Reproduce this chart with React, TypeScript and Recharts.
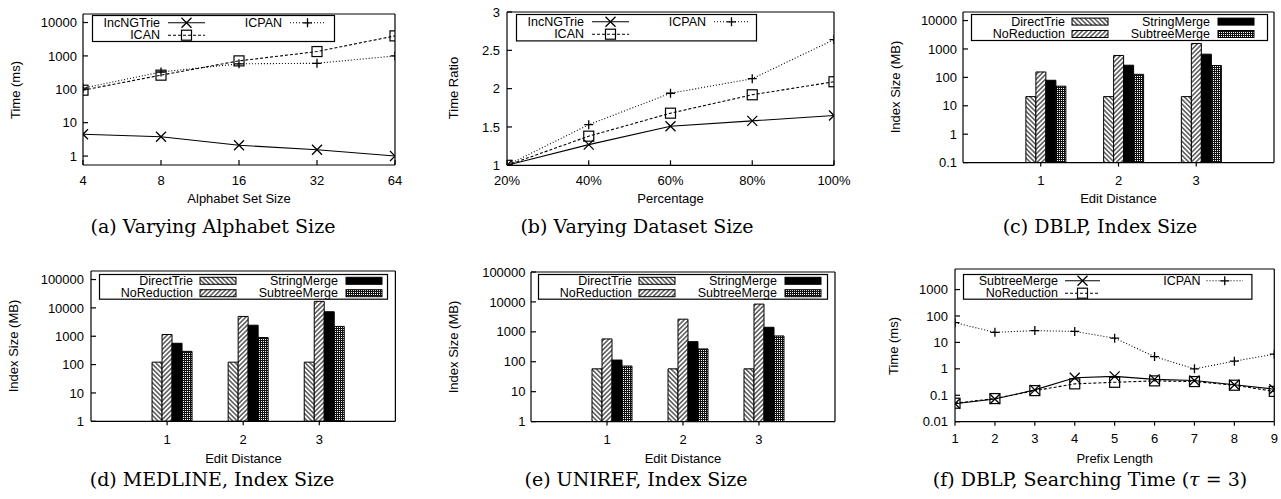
import React from 'react';
import { LineChart, Line, BarChart, Bar, XAxis, YAxis } from 'recharts';

// (a) varying alphabet size
const alphabetSizes = [4, 8, 16, 32, 64];
const alphabetIncNGTrie = [4.5, 3.8, 2.1, 1.55, 1.0];
const alphabetICAN = [94, 265, 710, 1350, 3980];
const alphabetICPAN = [108, 330, 580, 600, 1000];

// (b) varying dataset size
const datasetPercents = [20, 40, 60, 80, 100];
const datasetIncNGTrie = [1, 1.27, 1.51, 1.58, 1.65];
const datasetICAN = [1, 1.38, 1.68, 1.92, 2.09];
const datasetICPAN = [1, 1.53, 1.94, 2.13, 2.64];

// (c)-(e) index sizes per edit distance
const editDistances = [1, 2, 3];
const dblpDirectTrie = [21, 21, 21];
const dblpNoReduction = [155, 590, 1560];
const dblpStringMerge = [79, 268, 655];
const dblpSubtreeMerge = [49, 128, 262];

const medlineDirectTrie = [122, 122, 122];
const medlineNoReduction = [1150, 5000, 17000];
const medlineStringMerge = [565, 2450, 7300];
const medlineSubtreeMerge = [293, 900, 2220];

const unirefDirectTrie = [58, 58, 58];
const unirefNoReduction = [580, 2650, 8450];
const unirefStringMerge = [114, 470, 1420];
const unirefSubtreeMerge = [72, 268, 730];

// (f) searching time per prefix length
const prefixLengths = [1, 2, 3, 4, 5, 6, 7, 8, 9];
const prefixSubtreeMerge = [0.048, 0.072, 0.16, 0.46, 0.52, 0.4, 0.36, 0.25, 0.17];
const prefixNoReduction = [0.05, 0.075, 0.15, 0.27, 0.31, 0.35, 0.33, 0.24, 0.14];
const prefixICPAN = [56, 24, 28, 26, 14.5, 2.9, 1.0, 1.95, 3.6];

// tick labels
const ratioTicks = [1, 1.5, 2, 2.5, 3];
const timeTicksA = [1, 10, 100, 1000, 10000];
const sizeTicksC = [0.1, 1, 10, 100, 1000, 10000];
const sizeTicksDE = [1, 10, 100, 1000, 10000, 100000];
const timeTicksF = [0.01, 0.1, 1, 10, 100, 1000];

const SANS = '"Liberation Sans", Arial, sans-serif';
const SERIF = '"DejaVu Serif", serif';
const TICK = { fill: '#000', fontSize: 13, fontFamily: SANS };
const FRAME = { stroke: '#000', strokeWidth: 1.2 };

const YW = 60;
const XH = 34;
const MT = 12;
const MR = 30;

type Rect = { x: number; y: number; w: number; h: number };
type AxisCfg = {
  scale: 'log' | 'linear';
  domain: [number, number];
  ticks: number[];
  fmt?: (v: number) => string;
  gap: number;
  out?: boolean;
};

// minor tick positions of a log axis (2..9 per decade)
const logMinor = (lo: number, hi: number) => {
  const out: number[] = [];
  for (let e = -3; e <= 6; e++) {
    for (let m = 2; m <= 9; m++) {
      const v = m * Math.pow(10, e);
      if (v > lo && v < hi) out.push(v);
    }
  }
  return out;
};

function frameAxes(x: AxisCfg, y: AxisCfg) {
  const xs = x.out ? 4 : -5;
  const axes = [
    <XAxis key="xb" xAxisId="b" type="number" dataKey="x" scale={x.scale} domain={x.domain} ticks={x.ticks}
      allowDataOverflow interval={0} tickFormatter={x.fmt} tick={TICK} tickLine={FRAME} tickSize={xs}
      tickMargin={x.gap - xs} axisLine={FRAME} height={XH} />,
    <XAxis key="xt" xAxisId="t" orientation="top" mirror type="number" scale={x.scale} domain={x.domain}
      ticks={x.ticks} allowDataOverflow interval={0} tick={false} tickLine={FRAME} tickSize={-xs}
      axisLine={FRAME} height={1} />,
    <YAxis key="yl" yAxisId="l" type="number" scale={y.scale} domain={y.domain} ticks={y.ticks}
      allowDataOverflow interval={0} tickFormatter={y.fmt ?? ((v: number) => String(v))} tick={TICK}
      tickLine={FRAME} tickSize={-5} tickMargin={y.gap + 5} axisLine={FRAME} width={YW} />,
    <YAxis key="yr" yAxisId="r" orientation="right" mirror type="number" scale={y.scale} domain={y.domain}
      ticks={y.ticks} allowDataOverflow interval={0} tick={false} tickLine={FRAME} tickSize={5}
      axisLine={FRAME} width={1} />,
  ];
  if (y.scale === 'log') {
    const minor = logMinor(y.domain[0], y.domain[1]);
    axes.push(
      <YAxis key="ylm" yAxisId="lm" mirror type="number" scale="log" domain={y.domain} ticks={minor}
        allowDataOverflow interval={0} tick={false} tickLine={FRAME} tickSize={2.5} axisLine={false} width={1} />,
      <YAxis key="yrm" yAxisId="rm" orientation="right" mirror type="number" scale="log" domain={y.domain}
        ticks={minor} allowDataOverflow interval={0} tick={false} tickLine={FRAME} tickSize={2.5}
        axisLine={false} width={1} />,
    );
  }
  return axes;
}

type MarkerKind = 'cross' | 'square' | 'plus';

function Marker({ kind, cx, cy }: { kind: MarkerKind; cx: number; cy: number }) {
  if (kind === 'square') {
    return <rect x={cx - 5} y={cy - 5} width={10} height={10} fill="none" stroke="#000" strokeWidth={1.2} />;
  }
  const r = kind === 'cross' ? 5 : 4.5;
  const d = kind === 'cross'
    ? `M${cx - r},${cy - r}L${cx + r},${cy + r}M${cx - r},${cy + r}L${cx + r},${cy - r}`
    : `M${cx - r},${cy}L${cx + r},${cy}M${cx},${cy - r}L${cx},${cy + r}`;
  return <path d={d} fill="none" stroke="#000" strokeWidth={1.3} />;
}

type SeriesDef = { key: string; dash?: string; marker: MarkerKind };

function LinePanel({ rect, rows, series, x, y }: {
  rect: Rect; rows: Record<string, number>[]; series: SeriesDef[]; x: AxisCfg; y: AxisCfg;
}) {
  return (
    <div style={{ position: 'absolute', left: rect.x - YW, top: rect.y - MT }}>
      <LineChart width={rect.w + YW + MR} height={rect.h + MT + XH} data={rows}
        margin={{ top: MT, right: MR, left: 0, bottom: 0 }}>
        {frameAxes(x, y)}
        {series.map((s) => (
          <Line key={s.key} xAxisId="b" yAxisId="l" dataKey={s.key} type="linear" stroke="#000"
            strokeWidth={1.1} strokeDasharray={s.dash} isAnimationActive={false}
            dot={(p: any) => <Marker key={`${s.key}-${p.index}`} kind={s.marker} cx={p.cx} cy={p.cy} />}
            activeDot={false} />
        ))}
      </LineChart>
    </div>
  );
}

const BAR_FILLS: Record<string, string> = {
  DirectTrie: 'url(#hatchBack)',
  NoReduction: 'url(#hatchFwd)',
  StringMerge: '#000',
  SubtreeMerge: 'url(#dots)',
};
const barKeys = ['DirectTrie', 'NoReduction', 'StringMerge', 'SubtreeMerge'];

function BarPanel({ rect, rows, y, xGap }: { rect: Rect; rows: Record<string, number>[]; y: AxisCfg; xGap: number }) {
  const x: AxisCfg = { scale: 'linear', domain: [0, 4], ticks: editDistances, gap: xGap, out: true };
  return (
    <div style={{ position: 'absolute', left: rect.x - YW, top: rect.y - MT }}>
      <BarChart width={rect.w + YW + MR} height={rect.h + MT + XH} data={rows} barSize={10} barGap={0}
        margin={{ top: MT, right: MR, left: 0, bottom: 0 }}>
        {frameAxes(x, y)}
        {/* empty slot so the tick falls on the second bar, as in the original */}
        <Bar xAxisId="b" yAxisId="l" dataKey="slot" fill="none" isAnimationActive={false} />
        {barKeys.map((k) => (
          <Bar key={k} xAxisId="b" yAxisId="l" dataKey={k} fill={BAR_FILLS[k]} stroke="#000" strokeWidth={1}
            isAnimationActive={false} />
        ))}
      </BarChart>
    </div>
  );
}

type KeyItem = { label: string; col: number; row: number; dash?: string; marker?: MarkerKind; fill?: string };
type KeyCol = { tr: number; sl: number; sr: number };

function PlotKey({ left, top, width, height, cols, rowsY, items }: {
  left: number; top: number; width: number; height: number; cols: KeyCol[]; rowsY: number[]; items: KeyItem[];
}) {
  return (
    <svg style={{ position: 'absolute', left, top, overflow: 'visible' }} width={width} height={height}>
      <rect x={0.5} y={0.5} width={width - 1} height={height - 1} fill="#fff" stroke="#000" strokeWidth={1.2} />
      {items.map((it) => {
        const c = cols[it.col];
        const yy = rowsY[it.row];
        return (
          <g key={it.label}>
            <text x={c.tr} y={yy} textAnchor="end" dominantBaseline="central" fontSize={12.5} fontFamily={SANS}>
              {it.label}
            </text>
            {it.marker ? (
              <g>
                <line x1={c.sl} x2={c.sr} y1={yy} y2={yy} stroke="#000" strokeWidth={1.1} strokeDasharray={it.dash} />
                <Marker kind={it.marker} cx={(c.sl + c.sr) / 2} cy={yy} />
              </g>
            ) : (
              <rect x={c.sl} y={yy - 3.5} width={c.sr - c.sl} height={7} fill={it.fill} stroke="#000" strokeWidth={1} />
            )}
          </g>
        );
      })}
    </svg>
  );
}

function Text({ cx, cy, size = 13, font = SANS, rotate = false, children }: {
  cx: number; cy: number; size?: number; font?: string; rotate?: boolean; children: React.ReactNode;
}) {
  return (
    <div style={{
      position: 'absolute', left: cx, top: cy, whiteSpace: 'nowrap', fontSize: size, fontFamily: font,
      lineHeight: 1, transform: `translate(-50%, -50%)${rotate ? ' rotate(-90deg)' : ''}`,
    }}>
      {children}
    </div>
  );
}

const lineKeyCols: KeyCol[] = [{ tr: 68, sl: 76, sr: 113 }, { tr: 190, sl: 198, sr: 233 }];
const barKeyCols: KeyCol[] = [{ tr: 94, sl: 101, sr: 137 }, { tr: 239, sl: 247, sr: 283 }];
const barKeyItems: KeyItem[] = [
  { label: 'DirectTrie', col: 0, row: 0, fill: BAR_FILLS.DirectTrie },
  { label: 'NoReduction', col: 0, row: 1, fill: BAR_FILLS.NoReduction },
  { label: 'StringMerge', col: 1, row: 0, fill: BAR_FILLS.StringMerge },
  { label: 'SubtreeMerge', col: 1, row: 1, fill: BAR_FILLS.SubtreeMerge },
];
const lineKeyItems: KeyItem[] = [
  { label: 'IncNGTrie', col: 0, row: 0, marker: 'cross' },
  { label: 'ICAN', col: 0, row: 1, marker: 'square', dash: '3 2' },
  { label: 'ICPAN', col: 1, row: 0, marker: 'plus', dash: '1 2' },
];

const algoSeries: SeriesDef[] = [
  { key: 'ICPAN', dash: '1 2', marker: 'plus' },
  { key: 'ICAN', dash: '3 2', marker: 'square' },
  { key: 'IncNGTrie', marker: 'cross' },
];
const prefixSeries: SeriesDef[] = [
  { key: 'ICPAN', dash: '1 2', marker: 'plus' },
  { key: 'NoReduction', dash: '3 2', marker: 'square' },
  { key: 'SubtreeMerge', marker: 'cross' },
];

const barRows = (dt: number[], nr: number[], sm: number[], st: number[]) =>
  editDistances.map((x, i) => ({ x, DirectTrie: dt[i], NoReduction: nr[i], StringMerge: sm[i], SubtreeMerge: st[i] }));

export default function App() {
  const rowsA = alphabetSizes.map((x, i) => ({
    x, IncNGTrie: alphabetIncNGTrie[i], ICAN: alphabetICAN[i], ICPAN: alphabetICPAN[i],
  }));
  const rowsB = datasetPercents.map((x, i) => ({
    x, IncNGTrie: datasetIncNGTrie[i], ICAN: datasetICAN[i], ICPAN: datasetICPAN[i],
  }));
  const rowsF = prefixLengths.map((x, i) => ({
    x, SubtreeMerge: prefixSubtreeMerge[i], NoReduction: prefixNoReduction[i], ICPAN: prefixICPAN[i],
  }));

  const rA: Rect = { x: 83, y: 14, w: 312, h: 151 };
  const rB: Rect = { x: 507, y: 11.7, w: 327, h: 153.3 };
  const rC: Rect = { x: 963, y: 11.7, w: 311, h: 150.6 };
  const rD: Rect = { x: 91.3, y: 271, w: 304.4, h: 150.3 };
  const rE: Rect = { x: 531, y: 271.7, w: 304, h: 149.6 };
  const rF: Rect = { x: 955, y: 269.3, w: 319.3, h: 152.7 };

  return (
    <div style={{ position: 'absolute', left: 0, top: 0, width: 1281, height: 499, background: '#fff', overflow: 'hidden' }}>
      <svg width={0} height={0} style={{ position: 'absolute' }}>
        <defs>
          <pattern id="hatchBack" width={3.3} height={3.3} patternUnits="userSpaceOnUse" patternTransform="rotate(-45)">
            <rect width={3.3} height={3.3} fill="#fff" />
            <line x1={1.65} y1={0} x2={1.65} y2={3.3} stroke="#000" strokeWidth={1} />
          </pattern>
          <pattern id="hatchFwd" width={3.3} height={3.3} patternUnits="userSpaceOnUse" patternTransform="rotate(45)">
            <rect width={3.3} height={3.3} fill="#fff" />
            <line x1={1.65} y1={0} x2={1.65} y2={3.3} stroke="#000" strokeWidth={1} />
          </pattern>
          <pattern id="dots" width={2} height={2} patternUnits="userSpaceOnUse">
            <rect width={2} height={2} fill="#111" />
            <rect width={1} height={1} fill="#fff" />
          </pattern>
        </defs>
      </svg>

      <LinePanel rect={rA} rows={rowsA} series={algoSeries}
        x={{ scale: 'log', domain: [4, 64], ticks: alphabetSizes, gap: 10.4 }}
        y={{ scale: 'log', domain: [0.54, 18000], ticks: timeTicksA, gap: 6 }} />
      <LinePanel rect={rB} rows={rowsB} series={algoSeries}
        x={{ scale: 'linear', domain: [20, 100], ticks: datasetPercents, gap: 10.4, fmt: (v) => `${v}%` }}
        y={{ scale: 'linear', domain: [1, 3], ticks: ratioTicks, gap: 7 }} />
      <BarPanel rect={rC} rows={barRows(dblpDirectTrie, dblpNoReduction, dblpStringMerge, dblpSubtreeMerge)}
        y={{ scale: 'log', domain: [0.1, 20000], ticks: sizeTicksC, gap: 6 }} xGap={13} />
      <BarPanel rect={rD} rows={barRows(medlineDirectTrie, medlineNoReduction, medlineStringMerge, medlineSubtreeMerge)}
        y={{ scale: 'log', domain: [1, 200000], ticks: sizeTicksDE, gap: 7 }} xGap={13.4} />
      <BarPanel rect={rE} rows={barRows(unirefDirectTrie, unirefNoReduction, unirefStringMerge, unirefSubtreeMerge)}
        y={{ scale: 'log', domain: [1, 100000], ticks: sizeTicksDE, gap: 5.5 }} xGap={13.4} />
      <LinePanel rect={rF} rows={rowsF} series={prefixSeries}
        x={{ scale: 'linear', domain: [1, 9], ticks: prefixLengths, gap: 11.7, out: true }}
        y={{ scale: 'log', domain: [0.01, 6000], ticks: timeTicksF, gap: 7 }} />

      <PlotKey left={92} top={15} width={243} height={27} cols={lineKeyCols} rowsY={[7.8, 20.2]} items={lineKeyItems} />
      <PlotKey left={516} top={14.3} width={241} height={27.4} cols={lineKeyCols} rowsY={[7.8, 20.2]} items={lineKeyItems} />
      <PlotKey left={971} top={14.3} width={297} height={27} cols={barKeyCols} rowsY={[7.6, 20]} items={barKeyItems} />
      <PlotKey left={99.3} top={274.3} width={289} height={25.7} cols={barKeyCols} rowsY={[6.8, 19.2]} items={barKeyItems} />
      <PlotKey left={538.3} top={274.3} width={290} height={25.7} cols={barKeyCols} rowsY={[6.8, 19.2]} items={barKeyItems} />
      <PlotKey left={963.3} top={274.3} width={289.4} height={25.7}
        cols={[{ tr: 95, sl: 102, sr: 137 }, { tr: 237.5, sl: 243.5, sr: 280 }]} rowsY={[6.8, 19.2]}
        items={[
          { label: 'SubtreeMerge', col: 0, row: 0, marker: 'cross' },
          { label: 'NoReduction', col: 0, row: 1, marker: 'square', dash: '3 2' },
          { label: 'ICPAN', col: 1, row: 0, marker: 'plus', dash: '1 2' },
        ]} />

      <Text cx={15} cy={89.5} rotate>Time (ms)</Text>
      <Text cx={239} cy={197.7}>Alphabet Set Size</Text>
      <Text cx={453} cy={88.4} rotate>Time Ratio</Text>
      <Text cx={670.5} cy={198.3}>Percentage</Text>
      <Text cx={895} cy={87} rotate>Index Size (MB)</Text>
      <Text cx={1118.5} cy={197.7}>Edit Distance</Text>
      <Text cx={13.3} cy={346} rotate>Index Size (MB)</Text>
      <Text cx={243.5} cy={457.7}>Edit Distance</Text>
      <Text cx={453.3} cy={346.5} rotate>Index Size (MB)</Text>
      <Text cx={683} cy={457.7}>Edit Distance</Text>
      <Text cx={893.3} cy={345.7} rotate>Time (ms)</Text>
      <Text cx={1114.7} cy={457.7}>Prefix Length</Text>

      <Text cx={213} cy={226} size={19} font={SERIF}>(a) Varying Alphabet Size</Text>
      <Text cx={637} cy={226} size={19} font={SERIF}>(b) Varying Dataset Size</Text>
      <Text cx={1100} cy={226} size={19} font={SERIF}>(c) DBLP, Index Size</Text>
      <Text cx={212} cy={479} size={19} font={SERIF}>(d) MEDLINE, Index Size</Text>
      <Text cx={636} cy={479} size={19} font={SERIF}>(e) UNIREF, Index Size</Text>
      <Text cx={1090} cy={479} size={19} font={SERIF}>(f) DBLP, Searching Time (<i>τ</i> = 3)</Text>
    </div>
  );
}
